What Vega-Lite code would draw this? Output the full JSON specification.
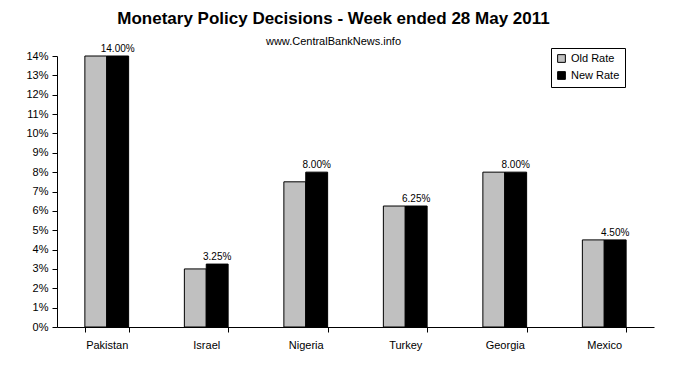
{
  "$schema": "https://vega.github.io/schema/vega-lite/v6.json",
  "width": 597,
  "height": 271,
  "autosize": "none",
  "padding": {"left": 57, "top": 56, "right": 21, "bottom": 40},
  "background": "white",
  "title": {
    "text": "Monetary Policy Decisions - Week ended 28 May 2011",
    "subtitle": "www.CentralBankNews.info",
    "anchor": "middle",
    "dx": -22,
    "font": "Liberation Sans",
    "fontSize": 17,
    "fontWeight": "bold",
    "color": "black",
    "subtitleFont": "Liberation Sans",
    "subtitleFontSize": 11,
    "subtitleColor": "black",
    "subtitlePadding": 8,
    "offset": -4
  },
  "data": {
    "values": [
      {"country": "Pakistan", "series": "Old Rate", "rate": 0.14},
      {"country": "Pakistan", "series": "New Rate", "rate": 0.14},
      {"country": "Israel", "series": "Old Rate", "rate": 0.03},
      {"country": "Israel", "series": "New Rate", "rate": 0.0325},
      {"country": "Nigeria", "series": "Old Rate", "rate": 0.075},
      {"country": "Nigeria", "series": "New Rate", "rate": 0.08},
      {"country": "Turkey", "series": "Old Rate", "rate": 0.0625},
      {"country": "Turkey", "series": "New Rate", "rate": 0.0625},
      {"country": "Georgia", "series": "Old Rate", "rate": 0.08},
      {"country": "Georgia", "series": "New Rate", "rate": 0.08},
      {"country": "Mexico", "series": "Old Rate", "rate": 0.045},
      {"country": "Mexico", "series": "New Rate", "rate": 0.045}
    ]
  },
  "encoding": {
    "x": {
      "field": "country",
      "type": "nominal",
      "sort": ["Pakistan", "Israel", "Nigeria", "Turkey", "Georgia", "Mexico"],
      "scale": {"paddingInner": 0.56, "paddingOuter": 0.28},
      "axis": {
        "title": null,
        "labelAngle": 0,
        "labelFont": "Liberation Sans",
        "labelFontSize": 11,
        "labelColor": "black",
        "labelPadding": 7,
        "domainColor": "black",
        "tickColor": "black",
        "tickSize": 5,
        "tickBand": "extent",
        "grid": false
      }
    },
    "xOffset": {
      "field": "series",
      "type": "nominal",
      "scale": {"domain": ["Old Rate", "New Rate"]}
    },
    "y": {
      "field": "rate",
      "type": "quantitative",
      "scale": {"domain": [0, 0.14], "nice": false},
      "axis": {
        "title": null,
        "format": ".0%",
        "values": [0, 0.01, 0.02, 0.03, 0.04, 0.05, 0.06, 0.07, 0.08, 0.09, 0.1, 0.11, 0.12, 0.13, 0.14],
        "labelFont": "Liberation Sans",
        "labelFontSize": 11,
        "labelColor": "black",
        "labelPadding": 4,
        "domainColor": "black",
        "tickColor": "black",
        "tickSize": 5,
        "grid": false
      }
    }
  },
  "layer": [
    {
      "mark": {"type": "bar", "stroke": "black", "strokeWidth": 1},
      "encoding": {
        "color": {
          "field": "series",
          "type": "nominal",
          "scale": {"domain": ["Old Rate", "New Rate"], "range": ["#C0C0C0", "#000000"]},
          "legend": {
            "title": null,
            "orient": "none",
            "legendX": 494,
            "legendY": -8,
            "strokeColor": "black",
            "padding": 5,
            "symbolType": "square",
            "symbolSize": 60,
            "symbolStrokeColor": "black",
            "symbolStrokeWidth": 1,
            "labelFont": "Liberation Sans",
            "labelFontSize": 11,
            "labelColor": "black",
            "rowPadding": 4,
            "fillColor": "white"
          }
        }
      }
    },
    {
      "transform": [{"filter": "datum.series == 'New Rate'"}],
      "mark": {"type": "text", "dy": -7, "font": "Liberation Sans", "fontSize": 10, "color": "black"},
      "encoding": {
        "text": {"field": "rate", "type": "quantitative", "format": ".2%"}
      }
    }
  ],
  "config": {"view": {"stroke": null}}
}
